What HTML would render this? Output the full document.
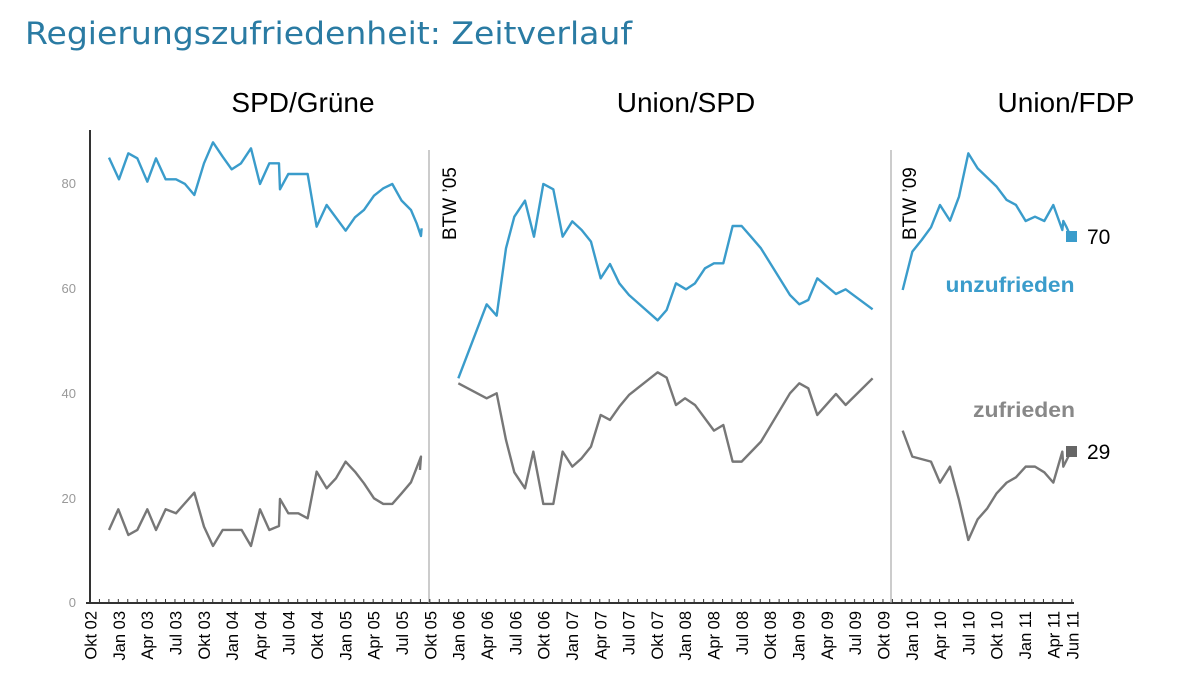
<!DOCTYPE html>
<html><head><meta charset="utf-8"><style>
body{margin:0;background:#fff;width:1200px;height:675px;overflow:hidden;font-family:"Liberation Sans",Arial,sans-serif}
</style></head><body>
<svg width="1200" height="675" xmlns="http://www.w3.org/2000/svg" font-family="Liberation Sans, Arial, sans-serif">
<text x="25" y="44" font-size="31" fill="#2a7ba3" font-family="DejaVu Sans, sans-serif" textLength="607" lengthAdjust="spacingAndGlyphs">Regierungszufriedenheit: Zeitverlauf</text>
<text x="303" y="112" font-size="28" text-anchor="middle" fill="#000">SPD/Grüne</text>
<text x="686" y="112" font-size="28" text-anchor="middle" fill="#000">Union/SPD</text>
<text x="1066" y="112" font-size="28" text-anchor="middle" fill="#000">Union/FDP</text>
<g font-size="13" fill="#999" text-anchor="end">
<text x="76" y="188">80</text><text x="76" y="293">60</text><text x="76" y="398">40</text><text x="76" y="503">20</text><text x="76" y="607">0</text>
</g>
<line x1="90" y1="130" x2="90" y2="604" stroke="#333" stroke-width="2"/>
<line x1="86" y1="603" x2="1074" y2="603" stroke="#333" stroke-width="2"/>
<line x1="429" y1="150" x2="429" y2="603" stroke="#999" stroke-width="1"/>
<line x1="891" y1="150" x2="891" y2="603" stroke="#999" stroke-width="1"/>
<text transform="translate(456,240) rotate(-90)" font-size="19" fill="#000">BTW ’05</text>
<text transform="translate(916,240) rotate(-90)" font-size="19" fill="#000">BTW ’09</text>
<g id="ticks" stroke="#333" stroke-width="1"></g>
<g id="labels" font-size="16.5" fill="#000" text-anchor="end"></g>
<g fill="none" stroke-width="2.4" stroke-linejoin="round">
<g transform="translate(80,130) scale(0.3333)">
<polyline vector-effect="non-scaling-stroke" stroke="#3a9ccb" points="87,83 117,148 145,70 172,85 202,155 228,85 257,148 288,148 315,162 343,195 372,100 399,37 428,80 455,118 483,100 513,55 540,162 568,100 597,100 600,178 625,132 683,132 710,290 740,225 797,302 825,262 852,240 882,197 910,175 937,162 965,212 993,240 1010,280 1023,318 1025,295"/>
<polyline vector-effect="non-scaling-stroke" stroke="#777" points="87,1200 115,1138 145,1215 172,1200 202,1138 228,1200 257,1138 288,1150 343,1088 372,1190 399,1248 428,1200 485,1200 513,1248 540,1138 568,1200 597,1188 600,1107 625,1150 655,1150 683,1165 710,1025 740,1075 768,1045 797,995 825,1025 852,1060 882,1105 910,1122 937,1122 965,1090 993,1057 1023,980 1020,1020"/>
</g>
<g transform="translate(430,140) scale(0.3333)">
<polyline vector-effect="non-scaling-stroke" stroke="#3a9ccb" points="85,715 170,493 200,527 228,325 253,230 285,182 312,290 340,132 370,148 398,290 427,244 455,270 483,305 512,415 540,372 568,430 597,465 683,541 710,510 738,430 768,448 795,430 825,385 852,370 880,370 908,258 935,258 963,290 993,325 1080,465 1108,493 1135,480 1162,415 1218,462 1247,448 1328,508"/>
<polyline vector-effect="non-scaling-stroke" stroke="#777" points="85,730 170,775 200,760 228,900 253,997 285,1045 310,935 340,1092 370,1092 398,935 427,980 455,955 483,920 512,825 540,840 568,800 597,765 683,697 710,713 738,795 765,775 795,795 852,872 880,855 908,965 935,965 993,905 1080,760 1108,730 1135,745 1162,825 1218,762 1247,795 1328,715"/>
</g>
<g transform="translate(880,140) scale(0.3333)">
<polyline vector-effect="non-scaling-stroke" stroke="#3a9ccb" points="68,450 97,335 125,300 153,262 180,195 210,242 237,170 265,40 293,85 350,140 380,180 408,195 437,243 465,230 493,243 520,195 547,270 550,243 560,262 572,290"/>
<polyline vector-effect="non-scaling-stroke" stroke="#777" points="68,872 97,950 153,965 180,1028 210,980 237,1080 265,1200 293,1138 322,1105 350,1060 380,1028 408,1012 437,980 465,980 493,997 520,1028 547,935 550,980 565,950 572,935"/>
</g>
</g>
<rect x="1066" y="231" width="11" height="11" fill="#3a9ccb"/>
<rect x="1066" y="446" width="11" height="11" fill="#666"/>
<text x="1087" y="244" font-size="21" fill="#000">70</text>
<text x="1087" y="459" font-size="21" fill="#000">29</text>
<text x="1010" y="292" font-size="21" font-weight="bold" fill="#3a9ccb" text-anchor="middle" textLength="129" lengthAdjust="spacingAndGlyphs">unzufrieden</text>
<text x="1024" y="417" font-size="21" font-weight="bold" fill="#888" text-anchor="middle" textLength="102" lengthAdjust="spacingAndGlyphs">zufrieden</text>
</svg>
<script>
var ns="http://www.w3.org/2000/svg";
var t=document.getElementById("ticks"),l=document.getElementById("labels");
var mn=["Okt","Jan","Apr","Jul"];
for(var m=0;m<=104;m++){var x=90+9.44*m;
var ln=document.createElementNS(ns,"line");ln.setAttribute("x1",x);ln.setAttribute("x2",x);ln.setAttribute("y1",599);ln.setAttribute("y2",603);t.appendChild(ln);
if(m%3==0||m==104){var yr=2+Math.floor((m+9)/12);var name=m==104?"Jun":mn[(m/3)%4];
var tx=document.createElementNS(ns,"text");tx.setAttribute("transform","translate("+(x+6.5)+",611) rotate(-90)");
tx.textContent=name+" "+(yr<10?"0"+yr:yr);l.appendChild(tx);}}
</script>
</body></html>
